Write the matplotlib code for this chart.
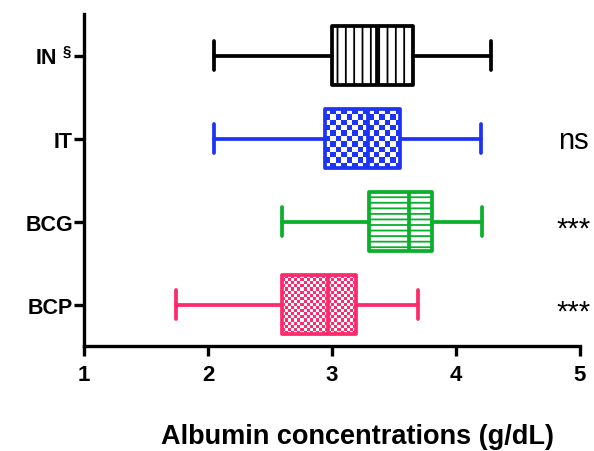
import matplotlib
matplotlib.use('Agg')
import matplotlib.pyplot as plt
import numpy as np
from matplotlib.colors import ListedColormap

plt.rcParams['font.family'] = ['Liberation Sans', 'DejaVu Sans']
plt.rcParams['mathtext.fontset'] = 'custom'
plt.rcParams['mathtext.rm'] = 'Liberation Sans:bold'
plt.rcParams['mathtext.it'] = 'Liberation Sans:bold'
plt.rcParams['mathtext.bf'] = 'Liberation Sans:bold'
plt.rcParams['hatch.linewidth'] = 1.3

# bottom to top
groups = ["BCP", "BCG", "IT", "IN"]
tick_labels = ["BCP", "BCG", "IT", r"IN $^{§}$"]
whis_lo = [1.74, 2.60, 2.05, 2.05]
q1 = [2.60, 3.30, 2.94, 3.00]
median = [2.97, 3.62, 3.29, 3.36]
q3 = [3.19, 3.81, 3.55, 3.65]
whis_hi = [3.69, 4.21, 4.20, 4.28]
signif = {"IT": "ns", "BCG": "***", "BCP": "***"}

colors = ["#ff2a6b", "#0aaf2c", "#1e34f5", "#000000"]
# hatch string, or checker cell size in pixels
fills = [("checker", 3.0), ("hatch", "---"), ("checker", 5.5), ("hatch", "||")]

fig = plt.figure(figsize=(5.94, 4.52), dpi=100)
ax = fig.add_axes([0.1414, 0.2323, 0.835, 0.7345])
ax.set_xlim(1, 5)
ax.set_ylim(-0.5, 3.5)

stats = []
for i, g in enumerate(groups):
    stats.append(dict(label=g, whislo=whis_lo[i], q1=q1[i], med=median[i],
                      q3=q3[i], whishi=whis_hi[i], fliers=[]))

positions = np.arange(len(groups))
bp = ax.bxp(stats, positions=positions, widths=0.7, capwidths=0.36,
            orientation='horizontal', patch_artist=True, showfliers=False,
            manage_ticks=False)

lw = 2.7
for i, c in enumerate(colors):
    box = bp['boxes'][i]
    box.set_edgecolor(c)
    box.set_linewidth(lw)
    box.set_joinstyle('round')
    for part in ('whiskers', 'caps'):
        for ln in bp[part][2 * i:2 * i + 2]:
            ln.set_color(c)
            ln.set_linewidth(lw)
            ln.set_solid_capstyle('round')
    bp['medians'][i].set_color(c)
    bp['medians'][i].set_linewidth(lw)
    kind, val = fills[i]
    if kind == "hatch":
        box.set_facecolor('white')
        box.set_hatch(val)
    else:
        box.set_facecolor('none')
        # checkerboard fill, clipped to the box
        px_per_x = ax.transData.transform((2, 0))[0] - ax.transData.transform((1, 0))[0]
        px_per_y = ax.transData.transform((0, 1))[1] - ax.transData.transform((0, 0))[1]
        nx = int(round((q3[i] - q1[i]) * px_per_x / val))
        ny = int(round(0.7 * px_per_y / val))
        board = np.indices((ny, nx)).sum(axis=0) % 2
        im = ax.imshow(board, cmap=ListedColormap(['white', c]),
                       extent=(q1[i], q3[i], positions[i] - 0.35, positions[i] + 0.35),
                       aspect='auto', interpolation='nearest', zorder=1.5)
        im.set_clip_path(box)

ax.set_xlim(1, 5)
ax.set_ylim(-0.5, 3.5)

ax.set_yticks(positions)
ax.set_yticklabels(tick_labels, fontsize=15.5, fontweight='bold')
ax.set_xticks([1, 2, 3, 4, 5])
ax.set_xticklabels(["1", "2", "3", "4", "5"], fontsize=16, fontweight='bold')

for s in ('top', 'right'):
    ax.spines[s].set_visible(False)
for s in ('left', 'bottom'):
    ax.spines[s].set_linewidth(2.4)
ax.tick_params(axis='both', width=2.4, length=7, direction='out')
ax.tick_params(axis='y', pad=1)
ax.tick_params(axis='x', pad=6)

ax.set_xlabel("Albumin concentrations (g/dL)", fontsize=19.5, fontweight='bold')
ax.xaxis.label.set_va('center')
ax.xaxis.set_label_coords(0.552, -0.271)

for i, g in enumerate(groups):
    if g in signif:
        dy = -0.02 if signif[g] == "ns" else -0.09
        ax.text(4.95, positions[i] + dy, signif[g], fontsize=21, ha='center',
                va='center', clip_on=False)

fig.savefig("out.png", dpi=100)
